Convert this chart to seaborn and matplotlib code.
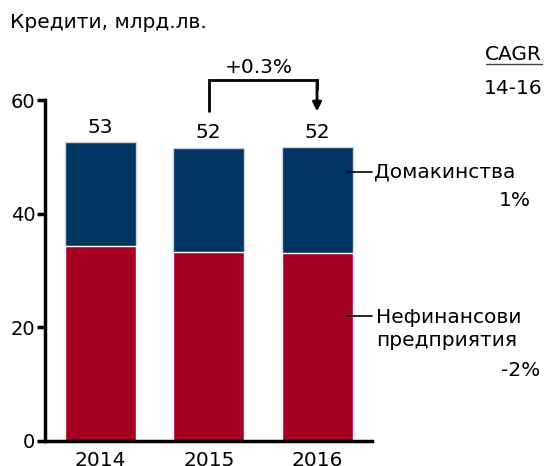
import numpy as np
import pandas as pd
import matplotlib
matplotlib.use('Agg')
import matplotlib.pyplot as plt
import seaborn as sns

# Data (bln BGN)
years = ['2014', '2015', '2016']
corporates = [34.3, 33.3, 33.1]   # Нефинансови предприятия
households = [18.3, 18.3, 18.6]   # Домакинства
cagr_labels = ['1%', '-2%']
growth_label = '+0.3%'

blue = '#003462'
red = '#A50021'
fs = 14.5

df = pd.DataFrame({'year': years, 'corp': corporates, 'hh': households})
df['total'] = df['corp'] + df['hh']

sns.set_theme(style='white')
plt.rcParams['font.family'] = ['DejaVu Sans']
plt.rcParams['text.color'] = 'black'

fig = plt.figure(figsize=(5.45, 4.66), dpi=100)
ax = fig.add_axes([45 / 545, 25 / 466, 327 / 545, 341 / 466])

# stacked bars: total in blue, corporates drawn over it in red
sns.barplot(data=df, x='year', y='total', color=blue, width=0.656, saturation=1,
            edgecolor='#c9d2de', linewidth=1, ax=ax)
sns.barplot(data=df, x='year', y='corp', color=red, width=0.656, saturation=1,
            edgecolor='white', linewidth=1, ax=ax)

ax.set_xlim(-0.513, 2.508)
ax.set_ylim(0, 60)
ax.set_yticks([0, 20, 40, 60])
ax.set_xlabel('')
ax.set_ylabel('')
sns.despine(ax=ax)
for s in ['left', 'bottom']:
    ax.spines[s].set_linewidth(2.5)
    ax.spines[s].set_color('black')
ax.tick_params(axis='y', left=True, length=6, width=2.5, labelsize=14, pad=1, colors='black')
ax.tick_params(axis='x', bottom=False, labelsize=14.5, pad=1, colors='black')

# totals above bars
for i, t in enumerate(df['total']):
    ax.annotate(f"{t:.0f}", (i, t), xytext=(0, 4), textcoords='offset points',
                ha='center', va='bottom', fontsize=fs)

# growth bracket 2015 -> 2016
ax.annotate('', xy=(2, 58), xytext=(2, 63.5), annotation_clip=False,
            arrowprops=dict(arrowstyle='-|>', color='black', lw=2, mutation_scale=13,
                            shrinkA=0, shrinkB=0))
ax.plot([1, 1, 2, 2], [58, 63.5, 63.5, 62], color='black', lw=2, clip_on=False,
        solid_joinstyle='miter')
ax.text(1.46, 65.8, growth_label, ha='center', va='center', fontsize=fs)

# segment labels
ax.plot([2.28, 2.508], [47.4, 47.4], color='black', lw=1.2, clip_on=False)
ax.plot([2.28, 2.508], [22.0, 22.0], color='black', lw=1.2, clip_on=False)
fig.text(374 / 545, 1 - 172 / 466, 'Домакинства', ha='left', va='center', fontsize=fs)
fig.text(376 / 545, 1 - 329 / 466, 'Нефинансови\nпредприятия', ha='left', va='center',
         fontsize=fs, linespacing=1.3)
fig.text(531 / 545, 1 - 200 / 466, cagr_labels[0], ha='right', va='center', fontsize=fs)
fig.text(540 / 545, 1 - 371 / 466, cagr_labels[1], ha='right', va='center', fontsize=fs)

fig.text(542 / 545, 1 - 54 / 466, 'CAGR', ha='right', va='center', fontsize=fs)
fig.add_artist(plt.Line2D([486 / 545, 542 / 545], [1 - 64 / 466, 1 - 64 / 466],
                          color='#444444', lw=1))
fig.text(542 / 545, 1 - 88 / 466, '14-16', ha='right', va='center', fontsize=fs)

fig.text(10 / 545, 1 - 22 / 466, 'Кредити, млрд.лв.', ha='left', va='center', fontsize=fs)

fig.savefig('out.png', dpi=100)
